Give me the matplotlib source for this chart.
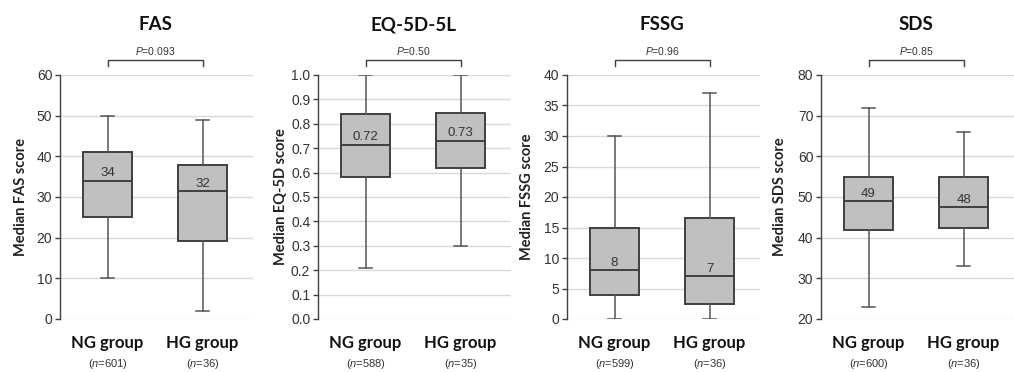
"""
Box plots of FAS, EQ-5D-5L, FSSG and SDS scores, NG group vs HG group
"""

import matplotlib
matplotlib.use('Agg')
import matplotlib.pyplot as plt
import matplotlib.transforms as mtransforms
from matplotlib.ticker import FormatStrFormatter

## Data
titles = ['FAS', 'EQ-5D-5L', 'FSSG', 'SDS']
ylabels = ['Median FAS score', 'Median EQ-5D score', 'Median FSSG score', 'Median SDS score']
groups = ['NG group', 'HG group']
n_counts = [[601, 36], [588, 35], [599, 36], [600, 36]]
p_values = ['0.093', '0.50', '0.96', '0.85']

# whisker low, Q1, median, Q3, whisker high  (NG, HG)
fas = [[10, 25, 34, 41, 50], [2, 19.2, 31.5, 37.8, 49]]
eq5d = [[0.21, 0.58, 0.715, 0.84, 1.0], [0.30, 0.62, 0.73, 0.845, 1.0]]
fssg = [[0, 4, 8, 15, 30], [0, 2.5, 7, 16.5, 37]]
sds = [[23, 42, 49, 55, 72], [33, 42.3, 47.5, 55, 66]]
median_labels = [['34', '32'], ['0.72', '0.73'], ['8', '7'], ['49', '48']]

ylims = [(0, 60), (0, 1.0), (0, 40), (20, 80)]
ysteps = [10, 0.1, 5, 10]

panels = [fas, eq5d, fssg, sds]

### Style
plt.rcParams['mathtext.fontset'] = 'custom'
plt.rcParams['mathtext.it'] = 'Liberation Sans:italic'
plt.rcParams['mathtext.rm'] = 'Liberation Sans'

dark = '#404040'
boxfill = '#c0c0c0'
gridc = '#d9d9d9'

fig = plt.figure(figsize=(10.14, 3.72), dpi=100)

lefts = [60, 318, 567, 821]
label_off = [32, 30, 33, 34]
W, H = 1014.0, 372.0

for i, data in enumerate(panels):
    ax = fig.add_axes([lefts[i] / W, 53 / H, 193 / W, 244 / H])

    stats = []
    for g, v in enumerate(data):
        stats.append(dict(whislo=v[0], q1=v[1], med=v[2], q3=v[3], whishi=v[4],
                          fliers=[], label=groups[g]))
    ax.bxp(stats, positions=[1, 2], widths=0.52, patch_artist=True,
           showfliers=False,
           boxprops=dict(facecolor=boxfill, edgecolor=dark, linewidth=1.4),
           medianprops=dict(color=dark, linewidth=1.4),
           whiskerprops=dict(color='#555555', linewidth=1.1),
           capprops=dict(color='#555555', linewidth=1.1),
           capwidths=0.14, zorder=3)

    # median labels
    for g in range(2):
        ax.annotate(median_labels[i][g], (g + 1, data[g][2]), textcoords='offset points',
                    xytext=(0, 1), ha='center', va='bottom', fontsize=9.5,
                    color='#333333', family='Liberation Sans', zorder=4)

    lo, hi = ylims[i]
    ax.set_ylim(lo, hi)
    ax.set_xlim(0.5, 2.53)
    nt = int(round((hi - lo) / ysteps[i]))
    ticks = [lo + k * ysteps[i] for k in range(nt + 1)]
    ax.set_yticks(ticks)
    if i == 1:
        ax.yaxis.set_major_formatter(FormatStrFormatter('%.1f'))
    ax.yaxis.grid(True, color=gridc, linewidth=1.0, zorder=0)
    ax.set_axisbelow(True)
    ax.set_xticks([])

    for s in ['top', 'right', 'bottom']:
        ax.spines[s].set_visible(False)
    ax.spines['left'].set_color(dark)
    ax.spines['left'].set_linewidth(1.0)
    ax.tick_params(axis='y', length=3.5, width=1.0, color=dark, labelsize=10,
                   labelcolor='#333333', pad=2)
    for lab in ax.get_yticklabels():
        lab.set_family('Liberation Sans')

    ax.set_ylabel(ylabels[i], fontsize=10.5, fontweight='bold', family='Lato', color='#222222')
    ax.yaxis.set_label_coords(-label_off[i] / 193.0, 0.5)

    trans = mtransforms.blended_transform_factory(ax.transData, ax.transAxes)
    ax.text(1.5, 1.205, titles[i], transform=trans, ha='center', va='center',
            fontsize=13.5, fontweight='bold', family='Lato', color='#111111')

    # significance bracket
    ax.plot([1, 1, 2, 2], [1.037, 1.061, 1.061, 1.037], transform=trans,
            color=dark, linewidth=1.0, clip_on=False)
    ax.text(1.5, 1.098, '$P$=' + p_values[i], transform=trans, ha='center',
            va='center', fontsize=7.5, family='Liberation Sans', color='#333333')

    for g in range(2):
        ax.text(g + 1, -0.098, groups[g], transform=trans, ha='center', va='center',
                fontsize=12, fontweight='bold', family='Lato', color='#111111')
        ax.text(g + 1, -0.184, '($n$=%d)' % n_counts[i][g], transform=trans,
                ha='center', va='center', fontsize=8, family='Liberation Sans',
                color='#333333')

fig.savefig('out.png', dpi=100)
